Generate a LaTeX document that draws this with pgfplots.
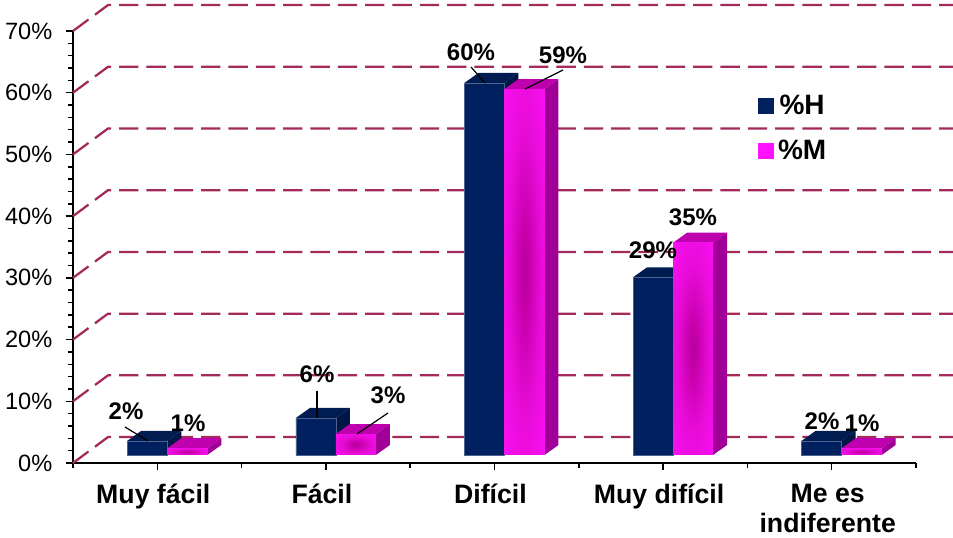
\documentclass[border=0pt]{standalone}
\usepackage{fontspec}
\setmainfont{Liberation Sans}
\usepackage{pgfplots}
\pgfplotsset{compat=1.18}
\definecolor{gridred}{HTML}{A32A5B}
\definecolor{hfront}{HTML}{002060}
\definecolor{htop}{HTML}{001C50}
\definecolor{hside}{HTML}{001645}
\definecolor{mfront}{HTML}{FF10FF}
\definecolor{mtop}{HTML}{BF00AF}
\definecolor{mside}{HTML}{A00098}
\definecolor{spota}{HTML}{B8009C}
\definecolor{spotb}{HTML}{C800AC}
\definecolor{spotc}{HTML}{E80CD8}
\definecolor{spotd}{HTML}{FA10F4}
\pgfdeclareradialshading{barspot}{\pgfpoint{0bp}{0bp}}{%
  color(0bp)=(spota);
  color(6bp)=(spotb);
  color(20bp)=(spotc);
  color(35bp)=(spotd);
  color(50bp)=(mfront)}
% one pixel of the reference is 0.75pt
\newcommand{\px}[2]{({#1*0.75pt},{(538-#2)*0.75pt})}
% top and side faces of a bar: centre x, value, top colour, side colour
\newcommand{\faces}[4]{%
  \pgfmathsetmacro{\xa}{#1-0.1186}
  \pgfmathsetmacro{\xb}{#1+0.1186}
  \pgfmathsetmacro{\xc}{#1-0.1186+0.083}
  \pgfmathsetmacro{\xd}{#1+0.1186+0.083}
  \pgfmathsetmacro{\yt}{#2+1.62}
  \addplot[barpart, fill=#3] coordinates {(\xa,#2) (\xb,#2) (\xd,\yt) (\xc,\yt) (\xa,#2)};
  \addplot[barpart, fill=#4] coordinates {(\xb,0) (\xd,1.62) (\xd,\yt) (\xb,#2) (\xb,0)};
}
\newcommand{\wall}[1]{%
  \pgfmathsetmacro{\yt}{#1+4.2}
  \addplot[forget plot, color=gridred, line width=1.7pt, dash pattern=on 14.5pt off 6pt]
    coordinates {(0,#1) (0.2076,\yt) (5.22,\yt)};
}
\begin{document}
\begin{tikzpicture}
\path[use as bounding box] (0,0) rectangle (714.75pt,403.5pt);
\begin{axis}[
  at={(54.75pt,56.25pt)}, anchor=south west,
  scale only axis, width=632.25pt, height=324pt,
  xmin=0, xmax=5, ymin=0, ymax=70,
  clip=false,
  axis lines=left, axis line style={line width=1.5pt, -},
  tick style={line width=1.1pt, black},
  tick align=outside,
  major tick length=5.5pt, minor tick length=4pt,
  xtick={0.5,1.5,2.5,3.5,4.5},
  xticklabels={Muy fácil,Fácil,Difícil,Muy difícil,Me es\\indiferente},
  minor xtick={0,1,2,3,4,5},
  x tick label style={font=\fontsize{20}{22}\selectfont\bfseries, align=center,
    text depth=0pt, xshift=-3pt, yshift=-7pt, anchor=north},
  ytick={0,10,20,30,40,50,60,70},
  yticklabels={0\%,10\%,20\%,30\%,40\%,50\%,60\%,70\%},
  minor ytick={2,4,6,8,12,14,16,18,22,24,26,28,32,34,36,38,42,44,46,48,52,54,56,58,62,64,66,68},
  y tick label style={font=\fontsize{17.7}{20}\selectfont, xshift=-6.5pt},
  legend style={at={(0.808,0.865)}, anchor=north west, draw=none, fill=none,
    font=\fontsize{21}{24}\selectfont\bfseries, row sep=13.5pt,
    /tikz/every even column/.append style={column sep=1pt},
    /tikz/every odd column/.append style={column sep=1.5pt}},
  barpart/.style={forget plot, xshift=7.5pt, yshift=6pt, draw=none},
  frontbar/.style={forget plot, ybar, bar width=30pt, bar shift=0pt, xshift=7.5pt, yshift=6pt},
  mbar/.style={frontbar, shading=barspot, draw=none},
]
\addlegendimage{only marks, mark=square*, mark size=5.6pt, color=hfront}
\addlegendentry{\%H}
\addlegendimage{only marks, mark=square*, mark size=5.6pt, color=mfront}
\addlegendentry{\%M}

\wall{0}\wall{10}\wall{20}\wall{30}\wall{40}\wall{50}\wall{60}\wall{70}

% %H
\faces{0.3814}{2.3}{htop}{hside}
\faces{1.3814}{6}{htop}{hside}
\faces{2.3814}{60.3}{htop}{hside}
\faces{3.3814}{28.8}{htop}{hside}
\faces{4.3814}{2.3}{htop}{hside}
\addplot[frontbar, fill=hfront, draw=hfront!70!white, line width=0.4pt] coordinates
  {(0.3814,2.3) (1.3814,6) (2.3814,60.3) (3.3814,28.8) (4.3814,2.3)};

% %M: one plot for each bar, so that each has its own shading
\faces{0.6186}{1.1}{mtop}{mside}
\faces{1.6186}{3.4}{mtop}{mside}
\faces{2.6186}{59.3}{mtop}{mside}
\faces{3.6186}{34.4}{mtop}{mside}
\faces{4.6186}{1.1}{mtop}{mside}
\addplot[mbar] coordinates {(0.6186,1.1)};
\addplot[mbar] coordinates {(1.6186,3.4)};
\addplot[mbar] coordinates {(2.6186,59.3)};
\addplot[mbar] coordinates {(3.6186,34.4)};
\addplot[mbar] coordinates {(4.6186,1.1)};
\end{axis}

\tikzset{lab/.style={font=\fontsize{18}{20}\selectfont\bfseries, inner sep=0pt},
  lead/.style={line width=0.9pt, black}}
\draw[lead] \px{125}{427} -- \px{148}{441};
\draw[lead] \px{317}{391} -- \px{317}{418};
\draw[lead] \px{388}{413} -- \px{357}{434};
\draw[lead] \px{471}{67} -- \px{485}{83};
\draw[lead] \px{563}{70} -- \px{525}{89};
\node[lab] at \px{126}{411} {2\%};
\node[lab] at \px{188}{423} {1\%};
\node[lab] at \px{317}{374} {6\%};
\node[lab] at \px{388}{395} {3\%};
\node[lab] at \px{471}{52} {60\%};
\node[lab] at \px{563}{55} {59\%};
\node[lab] at \px{653}{250} {29\%};
\node[lab] at \px{693}{217} {35\%};
\node[lab] at \px{822}{421} {2\%};
\node[lab] at \px{862}{423} {1\%};
\end{tikzpicture}
\end{document}
